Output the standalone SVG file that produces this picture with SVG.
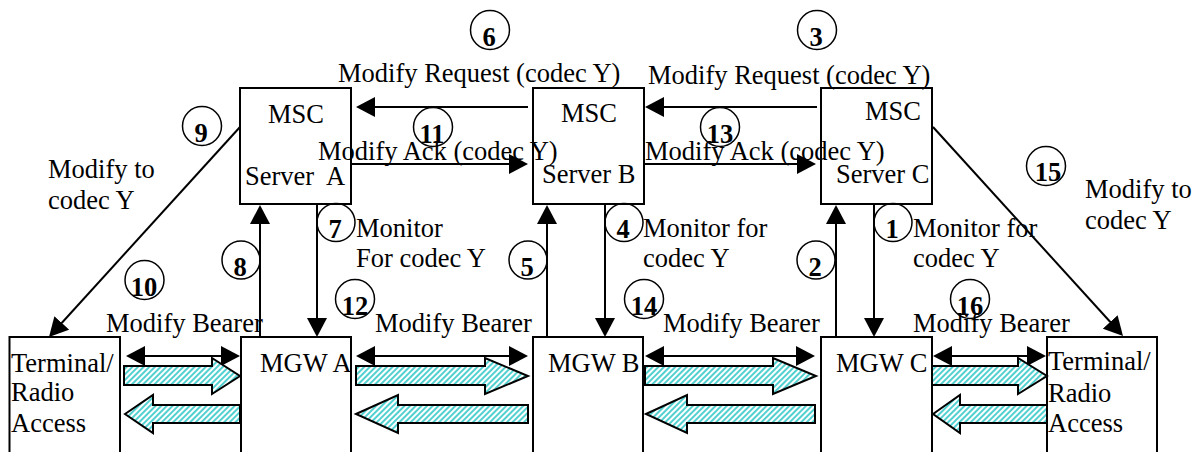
<svg xmlns="http://www.w3.org/2000/svg" width="1201" height="452" viewBox="0 0 1201 452">
<style>
  text { font-family: "Liberation Serif", "Times New Roman", serif; font-size: 26.5px; fill: #000; white-space: pre; }
  .num { font-weight: bold; text-anchor: middle; }
  .box { fill: #fff; stroke: #000; stroke-width: 2; }
  .ln { stroke: #000; stroke-width: 2; fill: none; }
  .arr { marker-end: url(#ah); }
  .dbl { marker-start: url(#ah); marker-end: url(#ah); }
  .circ { fill: none; stroke: #000; stroke-width: 1.5; }
  .fat { fill: url(#hatch); stroke: #000; stroke-width: 2; stroke-linejoin: miter; }
</style>
<defs>
  <marker id="ah" markerUnits="userSpaceOnUse" markerWidth="20" markerHeight="20" viewBox="0 0 20 20" refX="15" refY="10" orient="auto-start-reverse">
    <path d="M0,0 L19,10 L0,20 z" fill="#000"/>
  </marker>
  <pattern id="hatch" width="4" height="4" patternUnits="userSpaceOnUse" patternTransform="rotate(45)">
    <rect width="4" height="4" fill="#fff"/>
    <line x1="1" y1="0" x2="1" y2="4" stroke="#33c8c8" stroke-width="1.7"/>
  </pattern>
</defs>
<rect width="1201" height="452" fill="#fff"/>

<g id="msc-a"><rect class="box" x="240" y="88" width="111" height="116"/><text x="268" y="123">MSC</text><text x="245" y="185">Server  A</text></g>
<g id="msc-b"><rect class="box" x="533" y="88" width="111" height="116"/><text x="561" y="122">MSC</text><text x="542" y="183">Server B</text></g>
<g id="msc-c"><rect class="box" x="821" y="88" width="111" height="116"/><text x="865" y="120">MSC</text><text x="836" y="183">Server C</text></g>
<g id="term-l"><rect class="box" x="9.5" y="337" width="110.5" height="130"/><text x="11" y="372">Terminal/</text><text x="11" y="401">Radio</text><text x="11" y="432">Access</text></g>
<g id="mgw-a"><rect class="box" x="241" y="337" width="110" height="130"/><text x="260" y="372">MGW A</text></g>
<g id="mgw-b"><rect class="box" x="533" y="337" width="110" height="130"/><text x="548" y="372">MGW B</text></g>
<g id="mgw-c"><rect class="box" x="821" y="337" width="111" height="130"/><text x="836" y="372">MGW C</text></g>
<g id="term-r"><rect class="box" x="1047" y="337" width="110" height="130"/><text x="1048" y="370">Terminal/</text><text x="1048" y="402">Radio</text><text x="1048" y="432">Access</text></g>

<g id="connectors">
  <line class="ln arr" x1="817" y1="107" x2="649" y2="107"/>
  <line class="ln arr" x1="528" y1="107" x2="360" y2="107"/>
  <line class="ln arr" x1="351" y1="164" x2="524" y2="164"/>
  <line class="ln arr" x1="644" y1="164" x2="812" y2="164"/>
  <line class="ln arr" x1="260" y1="337" x2="260" y2="209"/>
  <line class="ln arr" x1="317" y1="204" x2="317" y2="333"/>
  <line class="ln arr" x1="547" y1="337" x2="547" y2="209"/>
  <line class="ln arr" x1="605" y1="204" x2="605" y2="333"/>
  <line class="ln arr" x1="836" y1="337" x2="836" y2="209"/>
  <line class="ln arr" x1="874" y1="204" x2="874" y2="333"/>
  <line class="ln arr" x1="240" y1="127" x2="51.7" y2="334"/>
  <line class="ln arr" x1="933" y1="127" x2="1120.3" y2="333"/>
  <line class="ln dbl" x1="130" y1="356" x2="236" y2="356"/>
  <line class="ln dbl" x1="360" y1="356" x2="524" y2="356"/>
  <line class="ln dbl" x1="649" y1="356" x2="811" y2="356"/>
  <line class="ln dbl" x1="937" y1="356" x2="1042" y2="356"/>
  <path class="fat" d="M124,366 H212 V358 L240,376 L212,394 V385 H124 Z"/>
  <path class="fat" d="M125,414 L153,395 V405 H240 V423 H153 V433 Z"/>
  <path class="fat" d="M356,366 H485 V358 L528,376 L485,394 V385 H356 Z"/>
  <path class="fat" d="M356,414 L398,395 V405 H528 V423 H398 V433 Z"/>
  <path class="fat" d="M645,366 H773 V358 L816,376 L773,394 V385 H645 Z"/>
  <path class="fat" d="M646,414 L687,395 V405 H815 V423 H687 V433 Z"/>
  <path class="fat" d="M932,366 H1018 V358 L1047,376 L1018,394 V385 H932 Z"/>
  <path class="fat" d="M933,414 L960,395 V405 H1047 V423 H960 V433 Z"/>
</g>

<g id="labels">
  <text x="338" y="82">Modify Request (codec Y)</text>
  <text x="648" y="84">Modify Request (codec Y)</text>
  <text x="318" y="160">Modify Ack (codec Y)</text>
  <text x="645" y="160">Modify Ack (codec Y)</text>
  <text x="48" y="178">Modify to</text>
  <text x="48" y="209">codec Y</text>
  <text x="1085" y="198">Modify to</text>
  <text x="1085" y="229">codec Y</text>
  <text x="356" y="237">Monitor</text>
  <text x="356" y="267">For codec Y</text>
  <text x="643" y="237">Monitor for</text>
  <text x="643" y="267">codec Y</text>
  <text x="913" y="237">Monitor for</text>
  <text x="913" y="267">codec Y</text>
  <text x="106" y="332">Modify Bearer</text>
  <text x="375" y="332">Modify Bearer</text>
  <text x="663" y="332">Modify Bearer</text>
  <text x="913" y="332">Modify Bearer</text>
</g>

<g id="steps">
  <circle class="circ" cx="490" cy="30" r="19.5"/><text class="num" x="489" y="46">6</text>
  <circle class="circ" cx="817" cy="30" r="19.5"/><text class="num" x="816" y="46">3</text>
  <circle class="circ" cx="202" cy="126" r="19.5"/><text class="num" x="201" y="142">9</text>
  <circle class="circ" cx="433" cy="127" r="19.5"/><text class="num" x="432" y="143">11</text>
  <circle class="circ" cx="720" cy="127" r="19.5"/><text class="num" x="720" y="143">13</text>
  <circle class="circ" cx="1046" cy="166" r="19.5"/><text class="num" x="1048" y="181">15</text>
  <circle class="circ" cx="336" cy="222.5" r="19"/><text class="num" x="335" y="238">7</text>
  <circle class="circ" cx="241" cy="260" r="19"/><text class="num" x="240" y="276">8</text>
  <circle class="circ" cx="528" cy="260" r="19"/><text class="num" x="527" y="276">5</text>
  <circle class="circ" cx="624" cy="222.5" r="19"/><text class="num" x="623" y="238">4</text>
  <circle class="circ" cx="816" cy="260" r="19"/><text class="num" x="815" y="276">2</text>
  <circle class="circ" cx="893" cy="222.5" r="19"/><text class="num" x="892" y="238">1</text>
  <circle class="circ" cx="144.5" cy="280" r="19.5"/><text class="num" x="144" y="296">10</text>
  <circle class="circ" cx="355" cy="299" r="19.5"/><text class="num" x="355" y="315">12</text>
  <circle class="circ" cx="644" cy="299" r="19.5"/><text class="num" x="644" y="315">14</text>
  <circle class="circ" cx="970" cy="299" r="19.5"/><text class="num" x="970" y="315">16</text>
</g>
</svg>
